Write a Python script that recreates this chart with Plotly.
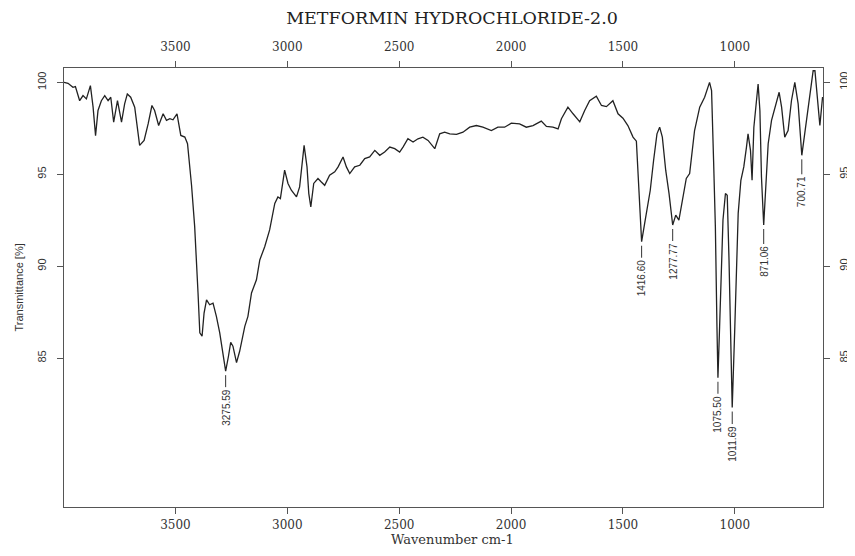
import plotly.graph_objects as go

# ---- data ----
wavenumber = [3998, 3980, 3958, 3947, 3928, 3913, 3898, 3880, 3868, 3857, 3846, 3831, 3816, 3801,
              3789, 3776, 3759, 3741, 3727, 3715, 3700, 3682, 3660, 3640, 3622, 3605, 3593, 3575,
              3555, 3540, 3525, 3511, 3493, 3476, 3458, 3446, 3428, 3414, 3399, 3391, 3381, 3372,
              3361, 3347, 3332, 3317, 3302, 3287, 3275.59, 3263, 3253, 3243, 3227, 3213, 3190, 3176,
              3160, 3138, 3123, 3101, 3079, 3056, 3042, 3031, 3012, 2997, 2982, 2959, 2945, 2925,
              2912, 2904, 2895, 2882, 2863, 2848, 2833, 2811, 2788, 2773, 2751, 2736, 2721, 2699,
              2676, 2654, 2632, 2609, 2587, 2565, 2542, 2520, 2498, 2483, 2461, 2438, 2416, 2394,
              2371, 2341, 2319, 2297, 2274, 2244, 2215, 2185, 2155, 2126, 2088, 2059, 2029, 1999,
              1962, 1932, 1902, 1865, 1842, 1813, 1790, 1775, 1746, 1723, 1693, 1671, 1649, 1619,
              1596, 1574, 1545, 1522, 1500, 1478, 1455, 1440, 1433, 1425, 1416.60, 1403, 1388, 1378,
              1363, 1348, 1336, 1324, 1309, 1294, 1277.77, 1264, 1250, 1232, 1217, 1202, 1180, 1157,
              1135, 1113, 1104, 1095, 1087, 1080, 1075.50, 1068, 1060, 1053, 1042, 1034, 1026, 1019,
              1011.69, 1000, 992, 985, 973, 960, 948, 941, 930, 923, 915, 906, 896, 888, 881, 871.06,
              861, 851, 836, 817, 802, 791, 777, 762, 747, 732, 717, 700.71, 683, 665, 650, 642, 632,
              620, 608]
transmittance = [100.0, 99.95, 99.73, 99.77, 99.0, 99.28, 99.1, 99.82, 98.65, 97.1, 98.47, 99.0, 99.28, 99.0,
                 99.19, 97.83, 99.0, 97.83, 98.83, 99.37, 99.19, 98.65, 96.57, 96.84, 97.74, 98.74, 98.47, 97.65,
                 98.29, 97.93, 98.02, 97.96, 98.29, 97.11, 97.02, 96.66, 94.4, 92.15, 88.54, 86.37, 86.19, 87.45,
                 88.17, 87.9, 87.99, 87.27, 86.37, 85.1, 84.29, 85.1, 85.86, 85.65, 84.75, 85.37, 86.73, 87.27,
                 88.54, 89.26, 90.34, 91.06, 91.97, 93.41, 93.77, 93.68, 95.22, 94.5, 94.13, 93.77, 94.31, 96.57,
                 95.4, 93.95, 93.23, 94.5, 94.77, 94.58, 94.4, 94.95, 95.13, 95.4, 95.94, 95.4, 95.04, 95.4,
                 95.49, 95.85, 95.94, 96.3, 96.03, 96.21, 96.48, 96.39, 96.21, 96.48, 96.93, 96.75, 96.93, 97.02,
                 96.84, 96.39, 97.2, 97.29, 97.2, 97.17, 97.29, 97.56, 97.65, 97.56, 97.38, 97.56, 97.56, 97.78,
                 97.74, 97.56, 97.65, 97.89, 97.6, 97.56, 97.47, 98.02, 98.65, 98.29, 97.85, 98.47, 99.0, 99.25,
                 98.74, 98.68, 99.0, 98.29, 98.05, 97.65, 97.02, 96.8, 95.22, 93.23, 91.33, 92.33, 93.41, 94.13,
                 95.76, 97.2, 97.56, 97.02, 95.22, 93.95, 92.24, 92.78, 92.51, 93.77, 94.77, 95.04, 97.38, 98.65,
                 99.19, 100.0, 99.55, 95.76, 92.15, 86.73, 83.93, 86.73, 90.34, 92.51, 93.95, 93.86, 90.34, 85.83,
                 82.31, 86.73, 90.34, 92.87, 94.67, 95.4, 96.48, 97.2, 96.3, 94.67, 97.56, 98.65, 99.91, 98.47, 94.85, 92.24,
                 94.31, 96.66, 97.93, 98.83, 99.46, 98.65, 97.02, 97.38, 99.0, 100.0, 98.83, 96.03, 97.56, 99.19, 100.63, 100.63, 99.37,
                 97.65, 99.2]

peak_wn = [3275.59, 1416.60, 1277.77, 1075.50, 1011.69, 871.06, 700.71]
peak_t = [84.29, 91.33, 92.24, 83.93, 82.31, 92.24, 96.03]
peak_labels = ["3275.59", "1416.60", "1277.77", "1075.50", "1011.69", "871.06", "700.71"]

x_ticks = [3500, 3000, 2500, 2000, 1500, 1000]
y_ticks = [85, 90, 95, 100]
x_range = [3998, 606]
y_range = [76.9, 100.78]

title_text = "METFORMIN HYDROCHLORIDE-2.0"
x_title = "Wavenumber cm-1"
y_title = "Transmittance [%]"

SERIF = "DejaVu Serif"
SANS = "Liberation Sans"
AX = "#555555"

# the page body has an 8px margin: the figure starts at (8, 8) in the window;
# keep the page no taller than the window so no scrollbar appears
OFF = 8
W, H = 855 - OFF, 556 - 2 * OFF

fig = go.Figure()
fig.add_trace(go.Scatter(x=wavenumber, y=transmittance, mode="lines",
                         line=dict(color="#222222", width=1.3), hoverinfo="skip",
                         showlegend=False))
# invisible trace to carry the top and right axes
fig.add_trace(go.Scatter(x=[x_range[0]], y=[y_range[0]], xaxis="x2", yaxis="y2",
                         mode="markers", marker=dict(opacity=0), showlegend=False,
                         hoverinfo="skip"))

common_x = dict(range=x_range, tickvals=x_ticks, ticks="outside", ticklen=6,
                tickcolor=AX, tickwidth=1, showline=True, linecolor=AX, linewidth=1,
                showgrid=False, zeroline=False,
                tickfont=dict(family=SERIF, size=12, color="#333333"))
common_y = dict(range=y_range, tickvals=y_ticks, ticks="outside", ticklen=6,
                tickcolor=AX, tickwidth=1, showline=True, linecolor=AX, linewidth=1,
                showgrid=False, zeroline=False, tickangle=-90,
                tickfont=dict(family=SANS, size=11, color="#333333"))

# plot area in window pixels: x 64..823, y 68..507
fig.update_layout(
    width=W, height=H,
    margin=dict(l=64 - OFF, r=OFF + W - 823, t=68 - OFF, b=OFF + H - 507, autoexpand=False),
    paper_bgcolor="white", plot_bgcolor="white",
    xaxis=dict(**common_x, side="bottom", ticklabelstandoff=1),
    xaxis2=dict(**common_x, side="top", overlaying="x", ticklabelstandoff=5),
    yaxis=dict(**common_y, side="left", ticklabelstandoff=7),
    yaxis2=dict(**common_y, side="right", overlaying="y", ticklabelstandoff=5),
    title=dict(text=title_text, xref="container", x=(452 - OFF) / W, xanchor="center",
               yref="container", y=1 - (18 - OFF) / H, yanchor="middle",
               font=dict(family=SERIF, size=17.5, color="#222222")),
)

anns = []
for wn, t, lab in zip(peak_wn, peak_t, peak_labels):
    anns.append(dict(x=wn, y=t, xref="x", yref="y", text=lab, textangle=-90,
                     showarrow=True, arrowhead=0, arrowwidth=1, arrowcolor="#333333",
                     ax=0, ay=36, standoff=4,
                     font=dict(family=SANS, size=10, color="#333333")))
anns.append(dict(text=x_title, xref="paper", yref="paper", x=(452 - 64) / 759,
                 y=-(539 - 507) / 439, showarrow=False, xanchor="center", yanchor="middle",
                 borderpad=0,
                 font=dict(family=SERIF, size=13, color="#333333")))
anns.append(dict(text=y_title, xref="paper", yref="paper", x=(18 - 64) / 759,
                 y=0.5, showarrow=False, textangle=-90, xanchor="center", yanchor="middle",
                 font=dict(family=SANS, size=11, color="#333333")))
fig.update_layout(annotations=anns)

fig.write_html("out.html")
